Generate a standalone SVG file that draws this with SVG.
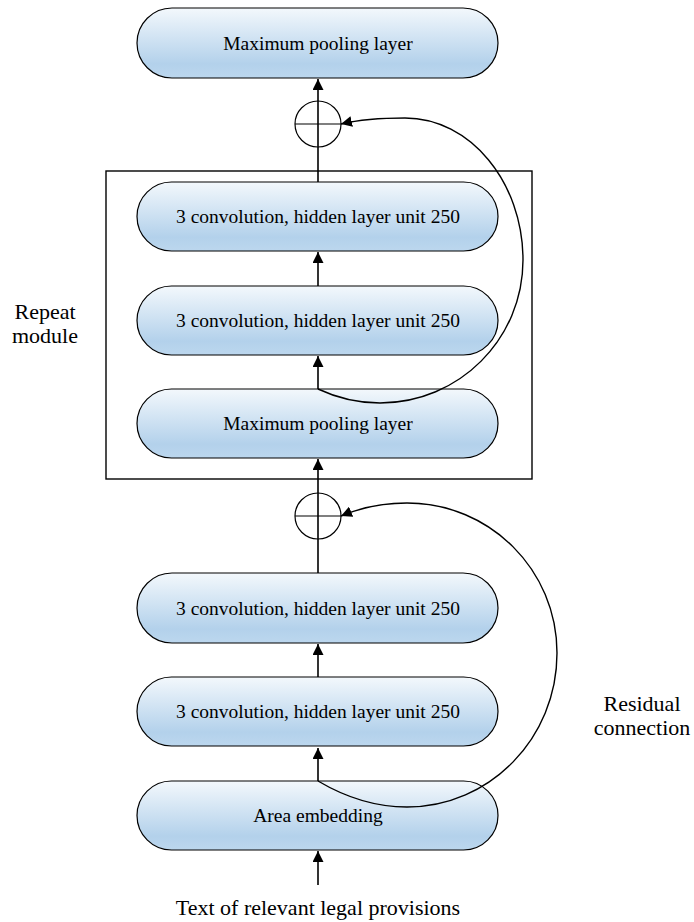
<svg xmlns="http://www.w3.org/2000/svg" width="694" height="922" viewBox="0 0 694 922">
<defs>
<linearGradient id="g" x1="0" y1="0" x2="0" y2="1">
<stop offset="0" stop-color="#f3f8fc"/>
<stop offset="0.8" stop-color="#b3d1eb"/>
<stop offset="1" stop-color="#bcd7ee"/>
</linearGradient>
<marker id="ah" markerUnits="userSpaceOnUse" markerWidth="11" markerHeight="11" viewBox="0 0 10 10" refX="10" refY="5" orient="auto">
<path d="M0,0 L10,5 L0,10 z" fill="#000"/>
</marker>
<style>
.node{fill:url(#g);stroke:#000;stroke-width:1.2}
.nt{font-family:"Liberation Serif","Times New Roman",serif;font-size:19.5px;text-anchor:middle;fill:#000}
.lb{font-family:"Liberation Serif","Times New Roman",serif;font-size:22px;text-anchor:middle;fill:#000}
.ln{fill:none;stroke:#000;stroke-width:1.6}
.cv{fill:none;stroke:#000;stroke-width:1.4}
.sum{fill:none;stroke:#000;stroke-width:1.2}
</style>
</defs>
<rect width="694" height="922" fill="#fff"/>
<g id="repeat-box">
<rect x="106" y="171" width="426" height="308" fill="none" stroke="#000" stroke-width="1.4"/>
</g>
<g id="n-top-pool">
<rect class="node" x="137" y="8" width="361" height="70" rx="35"/>
<text class="nt" x="318" y="50">Maximum pooling layer</text>
</g>
<g id="n-r-conv2">
<rect class="node" x="137" y="182" width="361" height="69" rx="34.5"/>
<text class="nt" x="318" y="223">3 convolution, hidden layer unit 250</text>
</g>
<g id="n-r-conv1">
<rect class="node" x="137" y="286" width="361" height="69" rx="34.5"/>
<text class="nt" x="318" y="327">3 convolution, hidden layer unit 250</text>
</g>
<g id="n-r-pool">
<rect class="node" x="137" y="389" width="361" height="69" rx="34.5"/>
<text class="nt" x="318" y="430">Maximum pooling layer</text>
</g>
<g id="n-conv2">
<rect class="node" x="137" y="573" width="361" height="70" rx="35"/>
<text class="nt" x="318" y="615">3 convolution, hidden layer unit 250</text>
</g>
<g id="n-conv1">
<rect class="node" x="137" y="677" width="361" height="69" rx="34.5"/>
<text class="nt" x="318" y="718">3 convolution, hidden layer unit 250</text>
</g>
<g id="n-embed">
<rect class="node" x="137" y="781" width="361" height="69" rx="34.5"/>
<text class="nt" x="318" y="822">Area embedding</text>
</g>
<g id="sum1">
<circle class="sum" cx="318" cy="124" r="23"/>
<line x1="295" y1="124" x2="341" y2="124" stroke="#000" stroke-width="1.2"/>
</g>
<g id="sum2">
<circle class="sum" cx="318" cy="516" r="23"/>
<line x1="295" y1="516" x2="341" y2="516" stroke="#000" stroke-width="1.2"/>
</g>
<g id="connectors">
<line class="ln" x1="318" y1="182" x2="318" y2="79" marker-end="url(#ah)"/>
<line class="ln" x1="318" y1="286" x2="318" y2="252" marker-end="url(#ah)"/>
<line class="ln" x1="318" y1="389" x2="318" y2="356" marker-end="url(#ah)"/>
<line class="ln" x1="318" y1="573" x2="318" y2="459" marker-end="url(#ah)"/>
<line class="ln" x1="318" y1="677" x2="318" y2="644" marker-end="url(#ah)"/>
<line class="ln" x1="318" y1="781" x2="318" y2="748" marker-end="url(#ah)"/>
<line class="ln" x1="318" y1="885" x2="318" y2="851" marker-end="url(#ah)"/>
<path class="cv" d="M318,389 C335,397 355,403 380,403 C459,403 523,339 523,260 C523,182 470,118 405,118 C380,118 358,120 341,124" marker-end="url(#ah)"/>
<path class="cv" d="M318,781 C345,797 375,807 407,807 C490,807 557,738 557,653 C557,570 490,503 407,503 C383,503 360,508 341,516" marker-end="url(#ah)"/>
</g>
<g id="labels">
<text class="lb" x="45" y="319">Repeat</text>
<text class="lb" x="45" y="343">module</text>
<text class="lb" x="642" y="711">Residual</text>
<text class="lb" x="642" y="735">connection</text>
<text class="lb" x="318" y="915">Text of relevant legal provisions</text>
</g>
</svg>
